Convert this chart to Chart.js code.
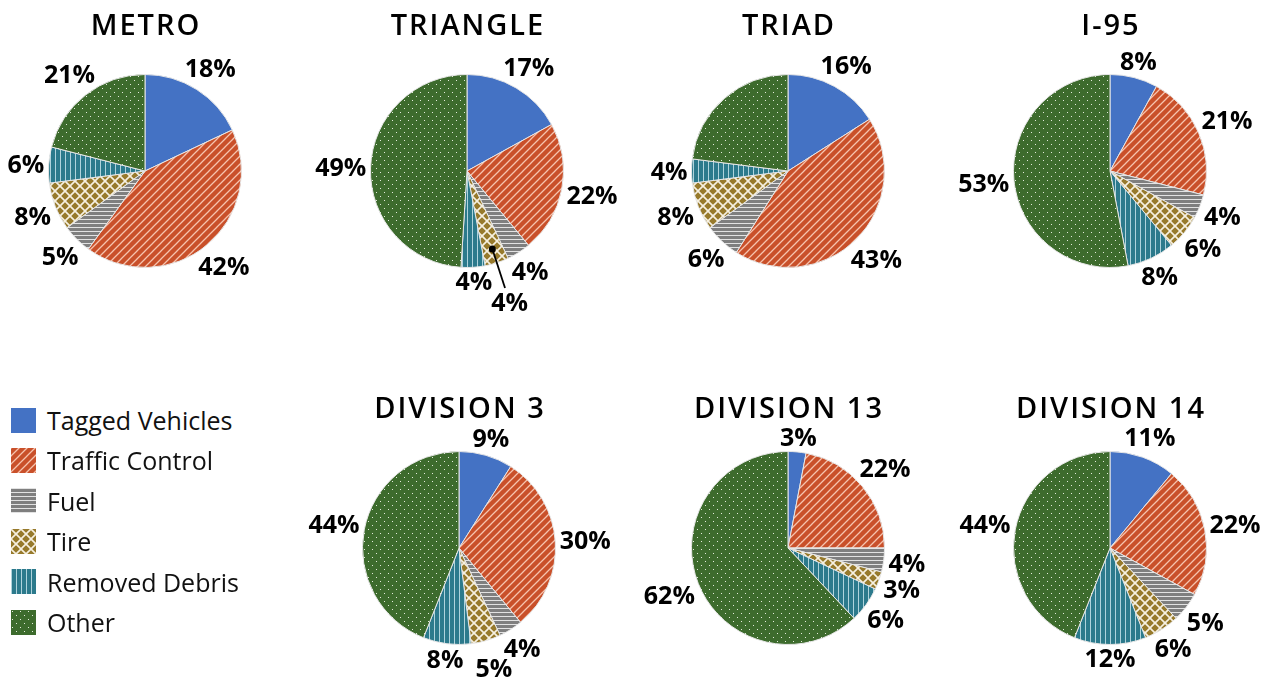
<!DOCTYPE html>
<html>
<head>
<meta charset="utf-8">
<script src="https://cdn.jsdelivr.net/npm/chart.js@4.4.1/dist/chart.umd.min.js"></script>
<style>
  html, body { margin: 0; padding: 0; background: #fff; }
  body { width: 1277px; height: 680px; overflow: hidden; position: relative; font-family: "Open Sans", sans-serif; }
  .pie { position: absolute; width: 320px; height: 320px; }
  .title { position: absolute; width: 320px; text-align: center; font: 600 29px/28px "Open Sans", sans-serif;
           letter-spacing: 2px; padding-left: 2px; box-sizing: border-box; color: #000; white-space: nowrap; }
  .legend-item { position: absolute; left: 11px; height: 40px; display: flex; align-items: center;
                 font: 400 25px/40px "Open Sans", sans-serif; color: #111; white-space: nowrap; }
  .legend-item canvas { width: 25px; height: 25px; margin-right: 11px; display: block; }
</style>
</head>
<body>
<script>
// Incident categories and the share (%) of each per region
const categories = ['Tagged Vehicles', 'Traffic Control', 'Fuel', 'Tire', 'Removed Debris', 'Other'];
const regions = ['METRO', 'TRIANGLE', 'TRIAD', 'I-95', 'DIVISION 3', 'DIVISION 13', 'DIVISION 14'];

const metro      = [18, 42, 5, 8, 6, 21];
const triangle   = [17, 22, 4, 4, 4, 49];
const triad      = [16, 43, 6, 8, 4, 23];
const i95        = [8, 21, 4, 6, 8, 53];
const division3  = [9, 30, 4, 5, 8, 44];
const division13 = [3, 22, 4, 3, 6, 62];
const division14 = [11, 22, 5, 6, 12, 44];

// slices whose percentage is not printed
const unlabeled = { 'TRIAD': [5] };

const regionValues = [metro, triangle, triad, i95, division3, division13, division14];

// pie centres and title positions on the page
const layout = [
  { cx: 145,  cy: 171, titleTop: 10 },
  { cx: 467,  cy: 171, titleTop: 10 },
  { cx: 788,  cy: 171, titleTop: 10 },
  { cx: 1110, cy: 171, titleTop: 10 },
  { cx: 459,  cy: 548, titleTop: 393 },
  { cx: 788,  cy: 548, titleTop: 393 },
  { cx: 1110, cy: 548, titleTop: 393 }
];

// ---- fill patterns for each category ----
function makeTile(w, h, paint) {
  const c = document.createElement('canvas');
  c.width = w; c.height = h;
  const g = c.getContext('2d');
  paint(g, w, h);
  return g.createPattern(c, 'repeat');
}
function diagonals(g, n, dir) {
  g.beginPath();
  for (let k = -1; k <= 1; k++) {
    if (dir > 0) { g.moveTo(k * n - 1, n + 1); g.lineTo(k * n + n + 1, -1); }
    else { g.moveTo(k * n - 1, -1); g.lineTo(k * n + n + 1, n + 1); }
  }
  g.stroke();
}
const fills = [
  '#4472C4',
  makeTile(8, 8, (g) => {
    g.fillStyle = '#C9502A'; g.fillRect(0, 0, 8, 8);
    g.strokeStyle = '#F6C3AE'; g.lineWidth = 1.3; diagonals(g, 8, 1);
  }),
  makeTile(4, 4, (g) => {
    g.fillStyle = '#7F7F7F'; g.fillRect(0, 0, 4, 4);
    g.fillStyle = '#E2E2E2'; g.fillRect(0, 0, 4, 1);
  }),
  makeTile(10, 10, (g) => {
    g.fillStyle = '#977A2C'; g.fillRect(0, 0, 10, 10);
    g.strokeStyle = '#F6F0E0'; g.lineWidth = 1.6; diagonals(g, 10, 1); diagonals(g, 10, -1);
  }),
  makeTile(5, 5, (g) => {
    g.fillStyle = '#2C7A8C'; g.fillRect(0, 0, 5, 5);
    g.fillStyle = '#AFD3DC'; g.fillRect(0, 0, 1, 5);
  }),
  makeTile(8, 8, (g) => {
    g.fillStyle = '#3D6B2D'; g.fillRect(0, 0, 8, 8);
    g.fillStyle = '#E4ECDC'; g.fillRect(1, 1, 1, 1); g.fillRect(5, 5, 1, 1);
  })
];

// ---- percentage labels outside each slice, nudged apart when they collide ----
const LABEL_FONT = '700 25px "Open Sans"';
const CAP = 18;
const outsideLabels = {
  id: 'outsideLabels',
  afterDatasetsDraw(chart, _args, opts) {
    const ctx = chart.ctx;
    const meta = chart.getDatasetMeta(0);
    const values = chart.data.datasets[0].data;
    const skip = opts.skip || [];
    ctx.save();
    ctx.font = LABEL_FONT;
    const items = [];
    meta.data.forEach((arc, i) => {
      if (skip.includes(i)) return;
      const p = arc.getProps(['x', 'y', 'startAngle', 'endAngle', 'outerRadius'], true);
      const mid = (p.startAngle + p.endAngle) / 2;
      const ux = Math.cos(mid), uy = Math.sin(mid);
      const text = values[i] + '%';
      const w = ctx.measureText(text).width;
      const ext = Math.abs(ux) * w / 2 + Math.abs(uy) * CAP / 2;
      const base = p.outerRadius + 4 + ext;
      items.push({ text, w, ux, uy, cx: p.x, cy: p.y, r: p.outerRadius, d: base, base });
    });
    const box = (it) => {
      const x = it.cx + it.ux * it.d, y = it.cy + it.uy * it.d;
      return { x, y, x0: x - it.w / 2, x1: x + it.w / 2, y0: y - CAP / 2, y1: y + CAP / 2 };
    };
    const M = 2;
    const hit = (a, b) => a.x0 < b.x1 + M && b.x0 < a.x1 + M && a.y0 < b.y1 + M && b.y0 < a.y1 + M;
    items.forEach((it, k) => {
      if (items.slice(0, k).some((o) => hit(box(o), box(it)))) {
        let guard = 0;
        while (guard++ < 80 && items.some((o, j) => j !== k && hit(box(o), box(it)))) it.d += 1;
      }
    });
    ctx.fillStyle = '#000';
    ctx.strokeStyle = '#000';
    ctx.textAlign = 'center';
    ctx.textBaseline = 'alphabetic';
    items.forEach((it) => {
      const b = box(it);
      if (it.d - it.base > 16) {
        const dx = it.cx + it.ux * it.r * 0.85, dy = it.cy + it.uy * it.r * 0.85;
        const vx = dx - b.x, vy = dy - b.y;
        const s = Math.min((it.w / 2 + 2) / Math.abs(vx || 1e-6), (CAP / 2 + 5) / Math.abs(vy || 1e-6));
        ctx.lineWidth = 1.8;
        ctx.beginPath();
        ctx.moveTo(dx, dy);
        ctx.lineTo(b.x + vx * s, b.y + vy * s);
        ctx.stroke();
        ctx.beginPath();
        ctx.arc(dx, dy, 3.5, 0, Math.PI * 2);
        ctx.fill();
      }
      ctx.fillText(it.text, b.x, b.y + CAP / 2);
    });
    ctx.restore();
  }
};

function build() {
  regions.forEach((name, idx) => {
    const pos = layout[idx];
    const holder = document.createElement('div');
    holder.className = 'pie';
    holder.style.left = (pos.cx - 160) + 'px';
    holder.style.top = (pos.cy - 160) + 'px';
    const canvas = document.createElement('canvas');
    canvas.width = 320; canvas.height = 320;
    holder.appendChild(canvas);
    document.body.appendChild(holder);

    const title = document.createElement('div');
    title.className = 'title';
    title.textContent = name;
    title.style.left = (pos.cx - 160) + 'px';
    title.style.top = pos.titleTop + 'px';
    document.body.appendChild(title);

    new Chart(canvas, {
      type: 'pie',
      data: {
        labels: categories,
        datasets: [{
          data: regionValues[idx],
          backgroundColor: fills,
          borderColor: '#E6E6E6',
          borderWidth: 1
        }]
      },
      options: {
        responsive: false,
        animation: false,
        events: [],
        layout: { padding: 63 },
        plugins: {
          legend: { display: false },
          tooltip: { enabled: false },
          outsideLabels: { skip: unlabeled[name] || [] }
        }
      },
      plugins: [outsideLabels]
    });
  });

  // shared legend
  categories.forEach((cat, i) => {
    const row = document.createElement('div');
    row.className = 'legend-item';
    row.style.top = (420 + i * 40.4 - 20) + 'px';
    const sw = document.createElement('canvas');
    sw.width = 25; sw.height = 25;
    const g = sw.getContext('2d');
    g.fillStyle = fills[i];
    g.fillRect(0, 0, 25, 25);
    row.appendChild(sw);
    const label = document.createElement('span');
    label.textContent = cat;
    row.appendChild(label);
    document.body.appendChild(row);
  });
}

Promise.all([
  document.fonts.load(LABEL_FONT),
  document.fonts.load('600 29px "Open Sans"'),
  document.fonts.load('400 25px "Open Sans"')
]).catch(() => {}).then(build);
</script>
</body>
</html>
